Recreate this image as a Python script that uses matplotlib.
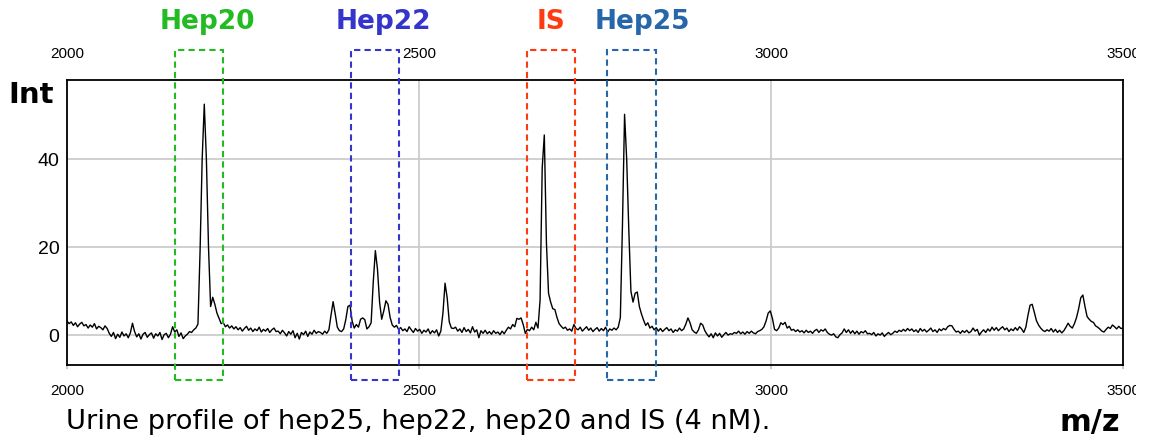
import numpy as np
import matplotlib
matplotlib.use("Agg")
import matplotlib.pyplot as plt
from matplotlib.patches import Rectangle
from matplotlib.transforms import Bbox, TransformedBbox, blended_transform_factory

# ---------------- data ----------------
mz_start = 2000
mz_step = 3
intensity = [
    3.2, 2.6, 3.0, 2.2, 2.8, 1.9, 2.5, 2.9, 2.1, 2.4, 1.6, 2.3, 1.8, 2.6, 1.4, 2.0, 1.7, 1.2, 2.1, 1.5,
    0.4, -0.3, 0.6, -0.8, 0.2, -0.5, 0.7, -0.2, 0.3, -0.6, 0.5, 2.7, 0.8, -0.4, 0.3, -0.9, 0.2, 0.6, -0.5, 0.1,
    0.5, -0.7, 0.3, -0.2, 0.6, -1.0, 0.1, 0.4, -0.6, 0.2, 1.9, 0.7, 1.2, -0.3, 0.5, -0.8, -0.2, 0.2, 0.8, 0.6,
    1.2, 1.6, 2.5, 19.0, 40.0, 52.5, 40.0, 20.0, 6.5, 8.6, 7.0, 5.0, 3.8, 2.6, 2.8, 1.9, 2.3, 1.6, 2.1, 1.4,
    1.9, 1.2, 1.7, 0.9, 1.5, 2.0, 1.1, 1.6, 0.8, 1.4, 1.0, 1.8, 0.7, 1.3, 0.9, 1.5, 0.6, 1.2, 1.6, 0.8,
    0.9, 0.3, 1.1, 0.5, -0.2, 0.8, 0.2, 1.0, -0.6, 0.4, -0.9, 0.6, 0.1, 0.9, -0.3, 0.7, 0.2, 1.1, 0.4, 0.8,
    0.6, 0.2, 0.9, 0.4, 1.2, 4.5, 7.6, 4.8, 1.8, 1.0, 0.8, 1.4, 3.5, 6.5, 6.8, 3.2, 1.6, 2.4, 1.8, 3.6,
    3.9, 3.5, 1.4, 1.9, 2.8, 12.0, 19.2, 15.0, 7.5, 3.6, 5.5, 7.8, 7.0, 4.0, 2.3, 1.8, 2.2, 1.3, 1.7, 1.0,
    1.4, 0.8, 1.9, 1.2, 0.6, 1.5, 0.9, 1.3, 0.4, 1.1, 0.7, 1.4, 0.3, 1.0, 0.5, 1.2, -0.2, 0.9, 5.0, 11.8,
    8.5, 3.0, 1.6, 1.5, 1.8, 0.9, 1.4, 0.6, 1.7, 0.8, 1.3, 0.5, 1.9, 0.7, 1.2, -0.6, 1.0, 0.4, 1.1, 0.3,
    0.8, 0.2, 1.0, 0.4, 0.7, 0.1, 0.9, 0.3, 1.1, 1.8, 1.4, 2.4, 1.9, 3.8, 3.6, 3.9, 2.4, 0.4, 1.3, 1.0,
    1.8, 1.2, 2.9, 1.6, 8.0, 38.0, 45.5, 21.0, 9.5, 7.5, 6.0, 5.8, 4.0, 2.6, 2.0, 1.5, 1.8, 1.1, 1.4, 0.9,
    2.4, 1.5, 1.2, 1.8, 0.9, 1.4, 1.9, 1.1, 1.6, 0.8, 1.3, 1.7, 0.9, 1.5, 1.0, 1.8, 0.7, 1.4, 1.1, 1.6,
    1.2, 1.8, 4.0, 25.0, 50.2, 40.0, 24.0, 10.0, 7.5, 9.5, 9.8, 6.5, 4.8, 3.4, 2.2, 2.8, 1.6, 2.0, 1.2, 1.7,
    0.9, 1.5, 0.8, 1.3, 1.7, 1.0, 1.4, 0.6, 1.2, 0.9, 1.6, 1.0, 1.4, 2.5, 3.9, 2.8, 1.2, 0.7, 0.4, 1.2,
    2.7, 2.3, 1.0, 0.2, -0.4, 0.3, -0.6, 0.5, -0.2, 0.4, -0.5, 0.1, 0.6, 0.0, 0.3, 0.2, 0.6, 0.4, 0.9, 0.3,
    0.7, 0.2, 0.8, 0.4, 0.9, 0.5, 0.3, 0.8, 1.0, 1.3, 1.9, 3.2, 5.0, 5.5, 3.8, 1.3, 1.0, 1.6, 2.8, 2.4,
    2.9, 1.6, 2.0, 1.1, 1.3, 0.8, 1.2, 0.7, 1.0, 0.5, 1.1, 0.6, 0.9, 0.4, 1.0, 1.3, 0.6, 1.2, 0.9, 1.4,
    0.6, 0.2, 0.0, 0.3, -0.4, -0.6, 0.1, 0.5, 1.4, 0.6, 1.2, 0.4, 1.0, 0.3, 0.9, 0.2, 0.8, 0.5, 1.0, 0.3,
    0.4, 0.1, 0.6, -0.2, 0.3, 0.0, 0.5, -0.3, 0.2, 0.6, 0.1, 0.4, 0.9, 0.6, 1.1, 0.8, 1.3, 0.9, 1.5, 1.0,
    1.4, 0.8, 1.2, 0.6, 1.5, 0.9, 1.3, 0.7, 1.1, 1.6, 0.8, 1.2, 0.6, 1.4, 1.0, 1.5, 1.2, 1.9, 2.2, 2.1,
    1.3, 0.7, 0.9, 0.4, 1.0, 0.6, 1.1, 0.5, 0.8, 1.6, 0.9, 1.3, 0.0, 0.7, 1.2, 0.6, 1.4, 0.9, 1.8, 1.1,
    1.7, 1.0, 1.5, 1.9, 1.2, 1.6, 0.8, 1.4, 1.0, 1.7, 1.1, 1.9, 1.4, 0.6, 1.8, 4.5, 6.8, 7.0, 5.2, 3.3,
    2.3, 1.6, 1.1, 0.8, 1.2, 0.9, 1.5, 0.7, 1.3, 0.6, 1.1, 0.5, 1.0, 1.8, 2.7, 2.0, 1.6, 2.6, 4.0, 6.0,
    8.5, 9.1, 6.5, 4.2, 3.6, 3.1, 2.9, 2.1, 1.8, 1.4, 0.9, 0.7, 1.3, 1.8, 1.5, 2.3, 1.9, 1.4, 2.0, 1.5,
    1.6,
]
mz = mz_start + mz_step * np.arange(len(intensity))

x_ticks = [2000, 2500, 3000, 3500]
y_ticks = [0, 20, 40]

box_labels = ["Hep20", "Hep22", "IS", "Hep25"]
box_lo = [2153, 2403, 2653, 2767]
box_hi = [2222, 2472, 2722, 2836]
label_x = [2199, 2449, 2688, 2818]
box_colors = ["#22bb22", "#3535cc", "#ff3a10", "#2866aa"]

# ---------------- figure ----------------
W, H = 1152, 438
fig = plt.figure(figsize=(W / 100, H / 100), dpi=100)
ax = fig.add_axes([67 / W, 1 - 365 / H, (1123 - 67) / W, (365 - 80) / H])

ax.plot(mz, intensity, color="black", lw=1.0, zorder=3)

ax.set_xlim(2000, 3500)
ax.set_ylim(-6.8, 58.0)
ax.set_xticks(x_ticks)
ax.set_yticks(y_ticks)
ax.grid(True, color="#c8c8c8", lw=1.2, zorder=0)
ax.set_axisbelow(True)

narrow = ["Liberation Sans Narrow", "Liberation Sans", "DejaVu Sans"]
ax.tick_params(axis="x", which="both", top=False, labeltop=True, bottom=True,
               labelbottom=True, length=3, color="#c0c0c0", width=1.2,
               pad=10.8, labelsize=11)
ax.tick_params(axis="y", length=0, pad=5.5, labelsize=14)
for t in ax.xaxis.get_major_ticks():
    for lab in (t.label1, t.label2):
        lab.set_family(narrow)
        lab.set_fontsize(11)
for t in ax.yaxis.get_major_ticks():
    t.label1.set_family(narrow)

# clip right-most x labels like the reference
clipbox = TransformedBbox(Bbox([[0, 0], [1136 / W, 1]]), fig.transFigure)
for t in ax.xaxis.get_major_ticks():
    for lab in (t.label1, t.label2):
        lab.set_clip_on(True)
        lab.set_clip_box(clipbox)

for s in ax.spines.values():
    s.set_color("black")
    s.set_linewidth(1.3)
    s.set_zorder(4)

# dashed boxes
for lo, hi, c in zip(box_lo, box_hi, box_colors):
    r = Rectangle((lo, -10.2), hi - lo, 75.0, fill=False, edgecolor=c,
                  lw=1.5, ls=(0, (3, 2)), clip_on=False, zorder=5)
    ax.add_patch(r)

lab_tr = blended_transform_factory(ax.transData, fig.transFigure)
for lab, lx, c in zip(box_labels, label_x, box_colors):
    ax.text(lx, 1 - 22 / H, lab, transform=lab_tr,
            ha="center", va="center", color=c, fontsize=19, fontweight="bold",
            family="DejaVu Sans")

fig.text(8 / W, 1 - 95 / H, "Int", ha="left", va="center", fontsize=21,
         fontweight="bold", family="DejaVu Sans")
fig.text(1120 / W, 1 - 423 / H, "m/z", ha="right", va="center", fontsize=22,
         fontweight="bold", family="DejaVu Sans")
fig.text(66 / W, 1 - 422 / H, "Urine profile of hep25, hep22, hep20 and IS (4 nM).",
         ha="left", va="center", fontsize=19.6, family="DejaVu Sans")

fig.savefig("out.png", dpi=100)
